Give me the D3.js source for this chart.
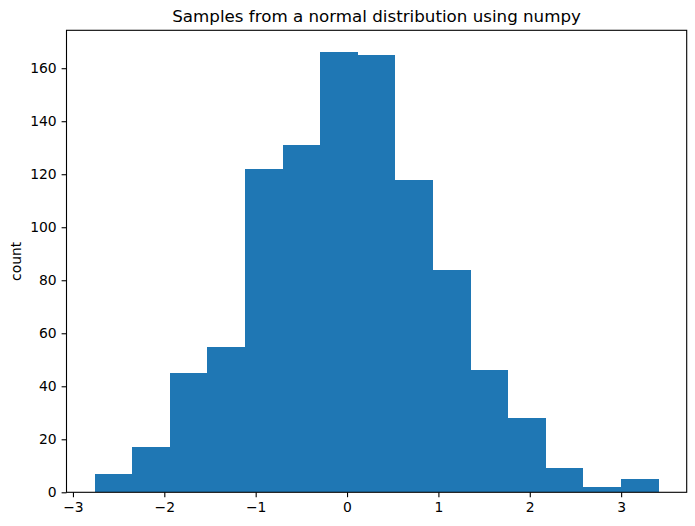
<!DOCTYPE html>
<html><head><meta charset="utf-8">
<script src="https://d3js.org/d3.v7.min.js"></script>
<style>body{margin:0;background:#fff;} text{font-family:"DejaVu Sans",sans-serif;}</style>
</head><body>
<script>
const binStart = -2.762;
const binWidth = 0.4114;
const counts = [7, 17, 45, 55, 122, 131, 166, 165, 118, 84, 46, 28, 9, 2, 5];
const xTicks = [-3, -2, -1, 0, 1, 2, 3];
const yTicks = [0, 20, 40, 60, 80, 100, 120, 140, 160];
const title = "Samples from a normal distribution using numpy";
const yLabel = "count";

const W = 695, H = 526;
const m = {left: 66.5, top: 30.3, right: 695 - 686.7, bottom: 526 - 492.3};
const pw = W - m.left - m.right, ph = H - m.top - m.bottom;

const bins = counts.map((c, i) => ({x0: binStart + i * binWidth, x1: binStart + (i + 1) * binWidth, c}));
const xmin = bins[0].x0, xmax = bins[bins.length - 1].x1;
const pad = (xmax - xmin) * 0.05;
const ymax = d3.max(counts) * 1.05;

const x = d3.scaleLinear().domain([xmin - pad, xmax + pad]).range([0, pw]);
const y = d3.scaleLinear().domain([0, ymax]).range([ph, 0]);

const svg = d3.select("body").append("svg").attr("width", W).attr("height", H);
const g = svg.append("g").attr("transform", `translate(${m.left},${m.top})`);

g.selectAll("rect.bar").data(bins).enter().append("rect")
  .attr("class", "bar")
  .attr("x", d => x(d.x0))
  .attr("width", d => x(d.x1) - x(d.x0))
  .attr("y", d => y(d.c))
  .attr("height", d => y(0) - y(d.c))
  .attr("fill", "#1f77b4")
  .attr("shape-rendering", "crispEdges");

const fmt = d => d < 0 ? "\u2212" + Math.abs(d) : String(d);
const xAxis = g.append("g").attr("transform", `translate(0,${ph})`)
  .call(d3.axisBottom(x).tickValues(xTicks).tickFormat(fmt).tickSize(4.9).tickPadding(4.9));
const yAxis = g.append("g")
  .call(d3.axisLeft(y).tickValues(yTicks).tickFormat(fmt).tickSize(4.9).tickPadding(4.9));
[xAxis, yAxis].forEach(a => {
  a.select(".domain").remove();
  a.selectAll("text").attr("font-size", 13.9).attr("fill", "#000").attr("font-family", "DejaVu Sans");
  a.selectAll("line").attr("stroke", "#000").attr("stroke-width", 1.1);
});

g.append("rect").attr("x", 0).attr("y", 0).attr("width", pw).attr("height", ph)
  .attr("fill", "none").attr("stroke", "#000").attr("stroke-width", 1.1);

svg.append("text").attr("x", m.left + pw / 2).attr("y", m.top - 8.3)
  .attr("text-anchor", "middle").attr("font-size", 16.7).attr("fill", "#000").text(title);

svg.append("text").attr("transform", `translate(21,${m.top + ph / 2}) rotate(-90)`)
  .attr("text-anchor", "middle").attr("font-size", 13.9).attr("fill", "#000").text(yLabel);
</script>
</body></html>
